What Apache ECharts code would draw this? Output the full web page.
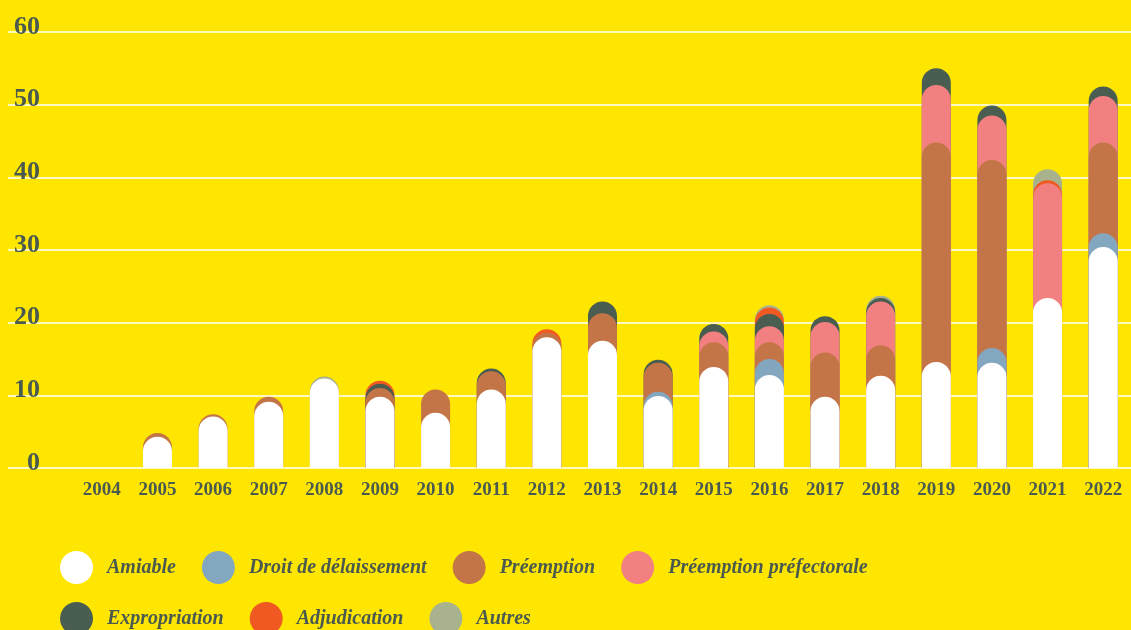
<!DOCTYPE html>
<html lang="fr">
<head>
    <meta charset="UTF-8">
    <title>Acquisitions par mode</title>
    <script src="https://cdn.jsdelivr.net/npm/echarts@6/dist/echarts.min.js"></script>
    <style>
        body {
            margin: 0;
            padding: 0;
            background: #ffe600;
        }
    </style>
</head>
<body>
    <div id="chart" style="width: 1131px;height: 630px;"></div>
    <script>
        var years = ["2004", "2005", "2006", "2007", "2008", "2009", "2010", "2011", "2012", "2013",
            "2014", "2015", "2016", "2017", "2018", "2019", "2020", "2021", "2022"];
        var yTicks = [0, 10, 20, 30, 40, 50, 60];

        // valeurs
        var amiable = [0, 4.3, 7.1, 9.1, 12.3, 9.8, 7.6, 10.8, 18.0, 17.5, 9.9, 13.9, 12.8, 9.8, 12.7, 14.6, 14.5, 23.4, 30.4];
        var delaissement = [0, 0, 0, 0, 0, 0, 0, 0, 0, 0, 0.6, 0, 2.2, 0, 0, 0, 2.0, 0, 1.9];
        var preemption = [0, 0.5, 0.3, 0.7, 0, 1.2, 3.2, 2.5, 0.6, 3.8, 4.0, 3.4, 2.3, 6.1, 4.2, 30.2, 25.9, 0, 12.5];
        var prefectorale = [0, 0, 0, 0, 0, 0, 0, 0, 0, 0, 0, 1.5, 2.2, 4.2, 6.0, 7.9, 6.1, 15.8, 6.4];
        var expropriation = [0, 0, 0, 0, 0, 0.6, 0, 0.4, 0, 1.6, 0.4, 1.0, 1.7, 0.8, 0.5, 2.3, 1.4, 0, 1.3];
        var adjudication = [0, 0, 0, 0, 0, 0.4, 0, 0, 0.5, 0, 0, 0, 0.9, 0, 0, 0, 0, 0.4, 0];
        var autres = [0, 0, 0, 0, 0.3, 0, 0, 0, 0, 0, 0, 0, 0.3, 0, 0.3, 0, 0, 1.5, 0];

        var names = ["Amiable", "Droit de délaissement", "Préemption", "Préemption préfectorale",
            "Expropriation", "Adjudication", "Autres"];
        var colors = ["#ffffff", "#84a7c0", "#c47547", "#f28080", "#4a5d51", "#f05a22", "#a8b38e"];
        var values = [amiable, delaissement, preemption, prefectorale, expropriation, adjudication, autres];

        var textColor = "#4a5a4f";
        var font = "'Liberation Serif', 'DejaVu Serif', serif";

        // chaque barre part de 0 jusqu'au cumul, la plus basse passe devant
        var total = years.map(function () { return 0; });
        var series = names.map(function (name, i) {
            var data = years.map(function (y, j) {
                total[j] += values[i][j];
                return values[i][j] > 0 ? +total[j].toFixed(2) : "-";
            });
            return {
                name: name,
                type: "bar",
                xAxisIndex: 1,
                yAxisIndex: 1,
                barWidth: 29,
                barGap: "-100%",
                z: 10 - i,
                itemStyle: {
                    color: colors[i],
                    borderRadius: [14.5, 14.5, 0, 0]
                },
                data: data
            };
        });

        var legendText = {
            color: textColor,
            fontFamily: font,
            fontWeight: "bold",
            fontStyle: "italic",
            fontSize: 20,
            padding: [0, 0, 0, 9]
        };

        var chart = echarts.init(document.getElementById("chart"));
        var option = {
            backgroundColor: "#ffe600",
            animation: false,
            color: colors,
            grid: [
                { left: 8, right: 0, top: 32, bottom: 162 },
                { left: 74, width: 1066, top: 32, bottom: 162 }
            ],
            xAxis: [
                { type: "category", gridIndex: 0, data: [], show: false },
                {
                    type: "category",
                    gridIndex: 1,
                    data: years,
                    axisLine: { show: false },
                    axisTick: { show: false },
                    axisLabel: {
                        color: textColor,
                        fontFamily: font,
                        fontWeight: "bold",
                        fontSize: 19,
                        lineHeight: 20,
                        margin: 12
                    }
                }
            ],
            yAxis: [
                {
                    type: "value",
                    gridIndex: 0,
                    min: yTicks[0],
                    max: yTicks[yTicks.length - 1],
                    interval: 10,
                    axisLine: { show: false },
                    axisTick: { show: false },
                    splitLine: { lineStyle: { color: "#ffffff", width: 1.5 } },
                    axisLabel: {
                        inside: true,
                        align: "right",
                        verticalAlign: "bottom",
                        margin: 32,
                        lineHeight: 10,
                        color: textColor,
                        fontFamily: font,
                        fontWeight: "bold",
                        fontSize: 26
                    }
                },
                {
                    type: "value",
                    gridIndex: 1,
                    min: 0,
                    max: 60,
                    interval: 10,
                    show: false
                }
            ],
            legend: [
                {
                    data: names.slice(0, 4),
                    left: 55,
                    top: 546,
                    icon: "circle",
                    itemWidth: 33,
                    itemHeight: 33,
                    itemGap: 26,
                    selectedMode: false,
                    textStyle: legendText
                },
                {
                    data: names.slice(4),
                    left: 55,
                    top: 597,
                    icon: "circle",
                    itemWidth: 33,
                    itemHeight: 33,
                    itemGap: 26,
                    selectedMode: false,
                    textStyle: legendText
                }
            ],
            series: series
        };
        chart.setOption(option);
    </script>
</body>
</html>
